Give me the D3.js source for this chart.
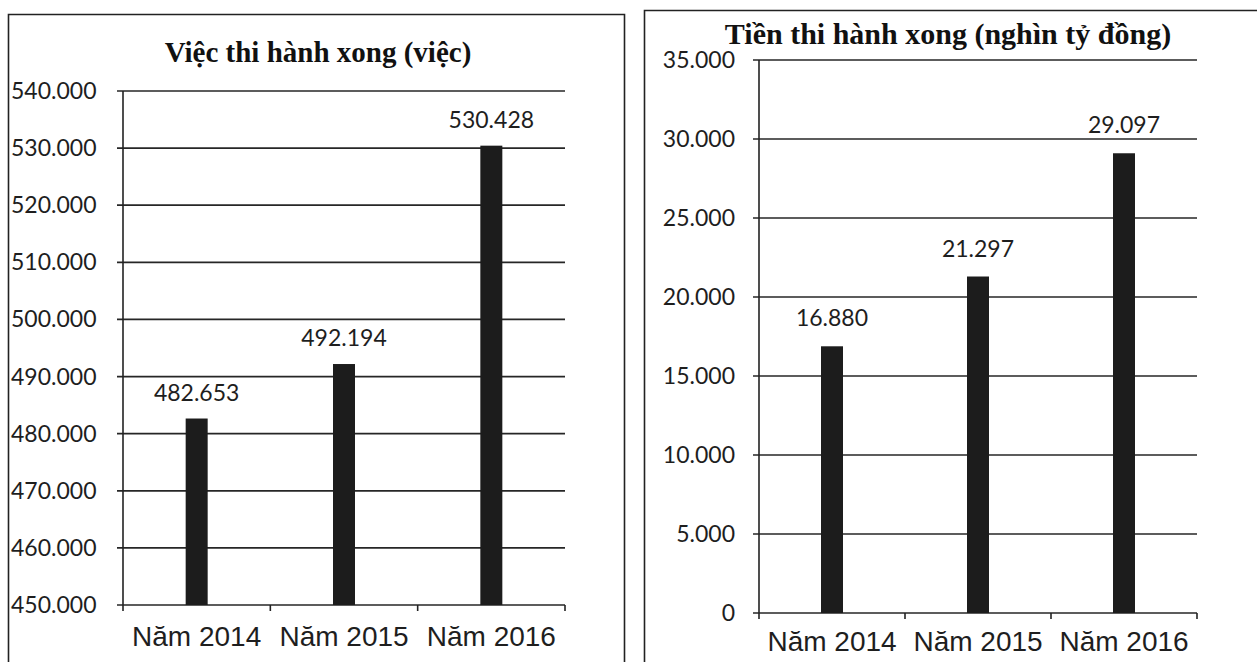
<!DOCTYPE html>
<html>
<head>
<meta charset="utf-8">
<script src="https://cdn.jsdelivr.net/npm/d3@7"></script>
<style>
  body { margin: 0; background: #fff; }
  svg { display: block; }
  .tick-label { font-family: Lato, "Open Sans", sans-serif; font-size: 23px; fill: #1e1e1e; }
  .val-label { font-family: Lato, "Open Sans", sans-serif; font-size: 23px; fill: #1e1e1e; }
  .cat-label { font-family: "Liberation Sans", Arial, sans-serif; font-size: 28px; fill: #1e1e1e; }
  .title { font-family: "Liberation Serif", "Times New Roman", serif; font-weight: bold; fill: #111; }
</style>
</head>
<body>
<div id="chart"></div>
<script>
var categories = ["Năm 2014", "Năm 2015", "Năm 2016"];

// left chart: cases completed
var casesValues = [482653, 492194, 530428];
var casesLabels = ["482.653", "492.194", "530.428"];
var casesTicks = [450000, 460000, 470000, 480000, 490000, 500000, 510000, 520000, 530000, 540000];

// right chart: money completed
var moneyValues = [16880, 21297, 29097];
var moneyLabels = ["16.880", "21.297", "29.097"];
var moneyTicks = [0, 5000, 10000, 15000, 20000, 25000, 30000, 35000];

var W = 1257, H = 662;
var svg = d3.select("#chart").append("svg")
  .attr("width", W)
  .attr("height", H);

// panel borders (bottom runs off the picture)
svg.append("path")
  .attr("d", "M8.5," + (H + 2) + " V14.5 H624.5 V" + (H + 2))
  .style("fill", "none").style("stroke", "#222").style("stroke-width", 1.6);
svg.append("path")
  .attr("d", "M644.5," + (H + 2) + " V10.5 H" + (W + 2))
  .style("fill", "none").style("stroke", "#222").style("stroke-width", 1.6);

function fmt(v) {
  // thousands with dot separator, like the source
  if (v === 0) return "0";
  var s = String(v);
  return s.slice(0, s.length - 3) + "." + s.slice(s.length - 3);
}

function drawChart(opt) {
  var g = svg.append("g");

  var x = d3.scaleBand()
    .domain(categories)
    .range([opt.left, opt.right])
    .padding(0);

  var y = d3.scaleLinear()
    .domain(opt.domain)
    .range([opt.bottom, opt.top]);

  // gridlines + y ticks
  g.selectAll(".grid")
    .data(opt.ticks)
    .enter().append("line")
    .attr("x1", opt.left - 6)
    .attr("x2", opt.right)
    .attr("y1", d => y(d))
    .attr("y2", d => y(d))
    .style("stroke", "#262626")
    .style("stroke-width", 1.7);

  g.selectAll(".tick-label")
    .data(opt.ticks)
    .enter().append("text")
    .attr("class", "tick-label")
    .attr("x", opt.labelX)
    .attr("y", d => y(d))
    .attr("dy", "0.35em")
    .attr("text-anchor", opt.labelAnchor)
    .text(d => fmt(d));

  // y axis line
  g.append("line")
    .attr("x1", opt.left).attr("x2", opt.left)
    .attr("y1", opt.top).attr("y2", opt.bottom)
    .style("stroke", "#222").style("stroke-width", 1.6);

  // x axis ticks at category boundaries
  var bounds = categories.map(c => x(c)).concat([opt.right]);
  g.selectAll(".xtick")
    .data(bounds)
    .enter().append("line")
    .attr("x1", d => d).attr("x2", d => d)
    .attr("y1", opt.bottom).attr("y2", opt.bottom + 6)
    .style("stroke", "#222").style("stroke-width", 1.6);

  var barW = 22;
  g.selectAll(".bar")
    .data(opt.values)
    .enter().append("rect")
    .attr("x", (d, i) => x(categories[i]) + x.bandwidth() / 2 - barW / 2)
    .attr("y", d => y(d))
    .attr("width", barW)
    .attr("height", d => opt.bottom - y(d))
    .style("fill", "#1c1c1c");

  g.selectAll(".val-label")
    .data(opt.values)
    .enter().append("text")
    .attr("class", "val-label")
    .attr("x", (d, i) => x(categories[i]) + x.bandwidth() / 2)
    .attr("y", d => y(d) - opt.valGap)
    .attr("text-anchor", "middle")
    .text((d, i) => opt.labels[i]);

  g.selectAll(".cat-label")
    .data(categories)
    .enter().append("text")
    .attr("class", "cat-label")
    .attr("x", d => x(d) + x.bandwidth() / 2)
    .attr("y", opt.catY)
    .attr("text-anchor", "middle")
    .text(d => d);

  g.append("text")
    .attr("class", "title")
    .attr("x", opt.titleX)
    .attr("y", opt.titleY)
    .attr("text-anchor", "middle")
    .style("font-size", opt.titleSize + "px")
    .text(opt.title);
}

drawChart({
  left: 123, right: 565, top: 91, bottom: 605,
  domain: [450000, 540000],
  ticks: casesTicks,
  values: casesValues,
  labels: casesLabels,
  labelX: 11, labelAnchor: "start",
  valGap: 18,
  catY: 646,
  title: "Việc thi hành xong (việc)",
  titleX: 318, titleY: 62, titleSize: 29
});

drawChart({
  left: 759, right: 1197, top: 60, bottom: 613,
  domain: [0, 35000],
  ticks: moneyTicks,
  values: moneyValues,
  labels: moneyLabels,
  labelX: 735, labelAnchor: "end",
  valGap: 20,
  catY: 651,
  title: "Tiền thi hành xong (nghìn tỷ đồng)",
  titleX: 948, titleY: 44, titleSize: 30
});
</script>
</body>
</html>
